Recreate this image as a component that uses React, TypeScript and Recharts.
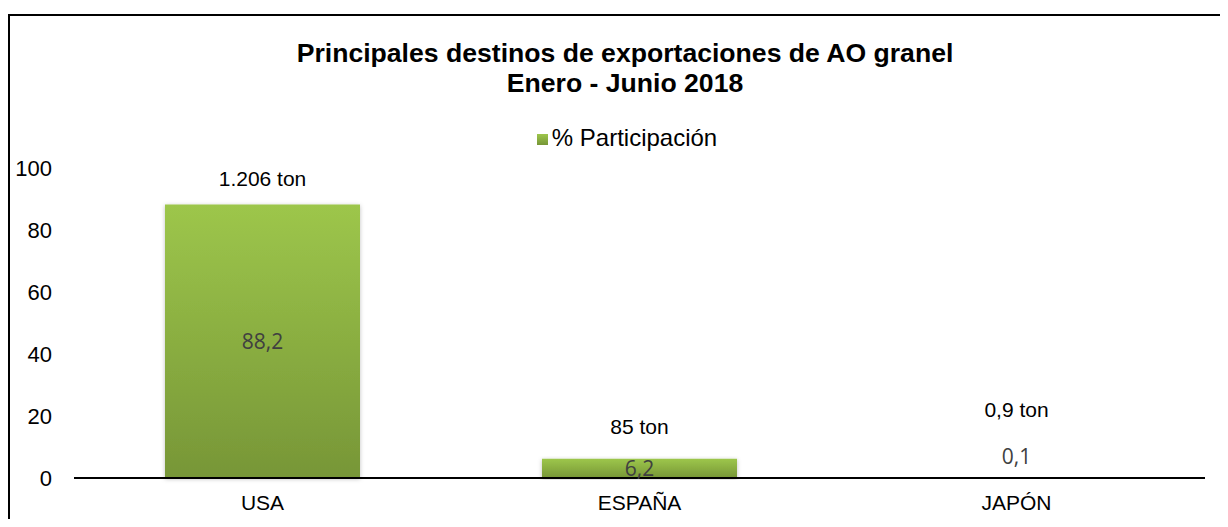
import React from 'react';
import { BarChart, Bar, XAxis, YAxis, Legend, LabelList } from 'recharts';

const categories = ['USA', 'ESPAÑA', 'JAPÓN'];
const participation = [88.2, 6.2, 0.1];
const tonLabels = ['1.206 ton', '85 ton', '0,9 ton'];
const yTicks = [0, 20, 40, 60, 80, 100];

const data = categories.map((c, i) => ({ name: c, value: participation[i], ton: tonLabels[i] }));

// style: distance from bar top to ton label centre
const tonOffsets = [26, 32, 68];

const TonLabel = (props: any) => {
  const { x, y, width, index } = props;
  const cx = Number(x) + Number(width) / 2;
  const cy = Number(y) - tonOffsets[index];
  return (
    <text x={cx} y={cy} dy="0.355em" textAnchor="middle" fontFamily="'Liberation Sans', Arial, sans-serif" fontSize={21} fill="#000">
      {tonLabels[index]}
    </text>
  );
};

const ValueLabel = (props: any) => {
  const { x, y, width, height, value } = props;
  const cx = Number(x) + Number(width) / 2;
  const h = Number(height);
  const cy = h < 10 ? Number(y) - 21 : Number(y) + h / 2;
  return (
    <text x={cx} y={cy} dy="0.355em" textAnchor="middle" fontFamily="'Open Sans', sans-serif" fontSize={21} fill="#404040">
      {Number(value).toFixed(1).replace('.', ',')}
    </text>
  );
};

export default function App() {
  return (
    <div
      style={{
        position: 'relative',
        top: 6,
        borderLeft: '2px solid #000',
        borderTop: '2px solid #000',
        fontFamily: "'Liberation Sans', Arial, sans-serif",
      }}
    >
      <div
        style={{
          position: 'absolute',
          top: 22,
          left: 615,
          transform: 'translateX(-50%)',
          whiteSpace: 'nowrap',
          textAlign: 'center',
          fontWeight: 'bold',
          fontSize: 26.6,
          lineHeight: '30px',
          color: '#000',
          zIndex: 2,
        }}
      >
        <div>Principales destinos de exportaciones de AO granel</div>
        <div>Enero - Junio 2018</div>
      </div>
      <BarChart
        width={1210}
        height={509}
        data={data}
        margin={{ top: 124, right: 15, bottom: 17, left: 0 }}
      >
        <defs>
          <linearGradient id="greenGrad" x1="0" y1="0" x2="0" y2="1">
            <stop offset="0%" stopColor="#9dc64b" />
            <stop offset="100%" stopColor="#779637" />
          </linearGradient>
          <filter id="barShadow" x="-10%" y="-10%" width="120%" height="120%">
            <feDropShadow dx="0" dy="1" stdDeviation="2" floodColor="#000" floodOpacity="0.25" />
          </filter>
        </defs>
        <XAxis
          dataKey="name"
          axisLine={{ stroke: '#000', strokeWidth: 2 }}
          tickLine={false}
          tickSize={0}
          tickMargin={17}
          height={30}
          tick={{ fill: '#000', fontSize: 21, fontFamily: "'Liberation Sans', Arial, sans-serif" }}
        />
        <YAxis
          domain={[0, 100]}
          ticks={yTicks}
          axisLine={false}
          tickLine={false}
          tickSize={0}
          tickMargin={22}
          width={64}
          tick={{ fill: '#000', fontSize: 22, fontFamily: "'Liberation Sans', Arial, sans-serif" }}
        />
        <Legend
          verticalAlign="top"
          align="center"
          iconType="square"
          iconSize={11}
          wrapperStyle={{ top: 108, left: 422, width: 400, fontSize: 24 }}
          formatter={(v: any) => <span style={{ color: '#000', fontSize: 24 }}>{v}</span>}
        />
        <Bar
          dataKey="value"
          name="% Participación"
          fill="url(#greenGrad)"
          barSize={195}
          isAnimationActive={false}
          style={{ filter: 'url(#barShadow)' }}
        >
          <LabelList dataKey="value" content={ValueLabel} />
          <LabelList dataKey="ton" content={TonLabel} />
        </Bar>
      </BarChart>
    </div>
  );
}
